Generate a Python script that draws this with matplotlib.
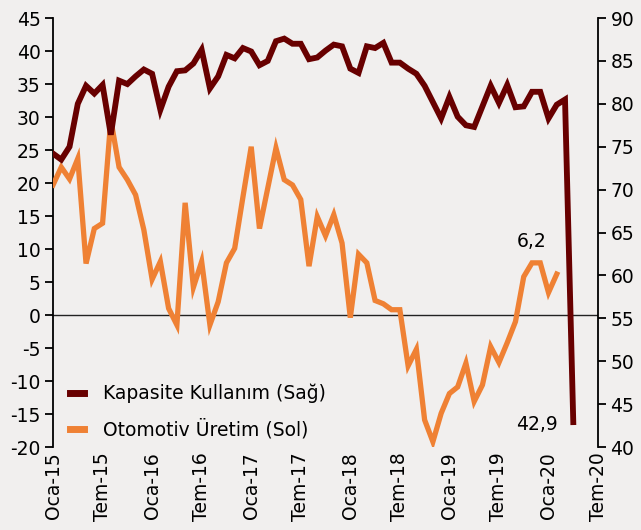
import numpy as np
import matplotlib
matplotlib.use("Agg")
import matplotlib.pyplot as plt

plt.rcParams['font.family'] = ['DejaVu Sans']
plt.rcParams['axes.unicode_minus'] = False

# Kapasite Kullanım (sağ eksen), Oca-15 .. Nis-20
kapasite = [74.2, 73.5, 75.0, 80.0, 82.1, 81.2, 82.2, 76.4, 82.7, 82.3, 83.2, 84.0,
            83.5, 79.3, 82.0, 83.8, 83.9, 84.7, 86.3, 81.8, 83.2, 85.7, 85.3, 86.5,
            86.1, 84.5, 85.0, 87.3, 87.6, 87.0, 87.0, 85.2, 85.4, 86.2, 86.9, 86.7,
            84.1, 83.6, 86.7, 86.5, 87.1, 84.8, 84.8, 84.1, 83.5, 82.1, 80.2, 78.3,
            80.8, 78.5, 77.5, 77.3, 79.7, 82.1, 80.1, 82.2, 79.6, 79.7, 81.4, 81.4,
            78.3, 79.9, 80.5, 42.9]

# Otomotiv Üretim (sol eksen), Oca-15 .. Şub-20
otomotiv = [19.7, 22.4, 20.6, 23.7, 7.8, 13.1, 13.9, 29.6, 22.4, 20.5, 18.2, 12.9,
            5.4, 8.1, 1.0, -1.5, 17.0, 4.2, 8.1, -1.5, 2.0, 7.9, 10.1, 17.9,
            25.5, 13.1, 19.2, 25.3, 20.5, 19.7, 17.5, 7.4, 14.9, 12.0, 15.2, 10.9,
            -0.4, 9.2, 7.9, 2.2, 1.7, 0.8, 0.8, -7.7, -5.2, -15.9, -19.2, -14.9,
            -11.9, -10.9, -7.3, -13.1, -10.6, -4.8, -7.2, -4.2, -1.0, 5.8, 7.9, 7.9,
            3.4, 6.2]

etiketler = ["Oca-15", "Tem-15", "Oca-16", "Tem-16", "Oca-17", "Tem-17",
             "Oca-18", "Tem-18", "Oca-19", "Tem-19", "Oca-20", "Tem-20"]

kirmizi = "#680000"
turuncu = "#ef8134"
arka = "#f1efee"

fig = plt.figure(figsize=(6.41, 5.30), dpi=100, facecolor=arka)
ax = fig.add_axes([0.0827, 0.1566, 0.8503, 0.8094])
ax.set_facecolor(arka)
ax2 = ax.twinx()

x1 = np.arange(len(kapasite))
x2 = np.arange(len(otomotiv))

ax.axhline(0, color="#222222", lw=1.0, zorder=1)
l2, = ax.plot(x2, otomotiv, color=turuncu, lw=3.8, solid_joinstyle="miter",
              label="Otomotiv Üretim (Sol)", zorder=3)
l1, = ax2.plot(x1, kapasite, color=kirmizi, lw=4.2, solid_joinstyle="miter",
               label="Kapasite Kullanım (Sağ)", zorder=3)

ax.set_xlim(0, 66)
ax.set_ylim(-20, 45)
ax2.set_ylim(40, 90)
ax.set_yticks(range(-20, 46, 5))
ax2.set_yticks(range(40, 91, 5))
ax.set_xticks(range(0, 67, 6))
ax.set_xticklabels(etiketler, rotation=90)

for s in ["top", "bottom", "right"]:
    ax.spines[s].set_visible(False)
for s in ["top", "bottom", "left"]:
    ax2.spines[s].set_visible(False)
ax.spines["left"].set_linewidth(1.3)
ax2.spines["right"].set_linewidth(1.3)

ax.tick_params(axis="y", labelsize=13.5, length=6, width=1.3, pad=3)
ax2.tick_params(axis="y", labelsize=13.5, length=6, width=1.3, pad=3)
ax.tick_params(axis="x", labelsize=13.5, length=0, pad=4)

ax.text(57.9, 11.1, "6,2", fontsize=13.5, ha="center", va="center")
ax2.text(58.6, 42.6, "42,9", fontsize=13.5, ha="center", va="center")

leg = ax2.legend(handles=[l1, l2], loc="lower left", bbox_to_anchor=(0.018, 0.0),
                 frameon=False, fontsize=13.5, handlelength=0.75, handletextpad=1.0,
                 labelspacing=0.85, borderaxespad=0.0)
for h in leg.legend_handles:
    h.set_linewidth(5)

fig.savefig("out.png", dpi=100, facecolor=arka)
